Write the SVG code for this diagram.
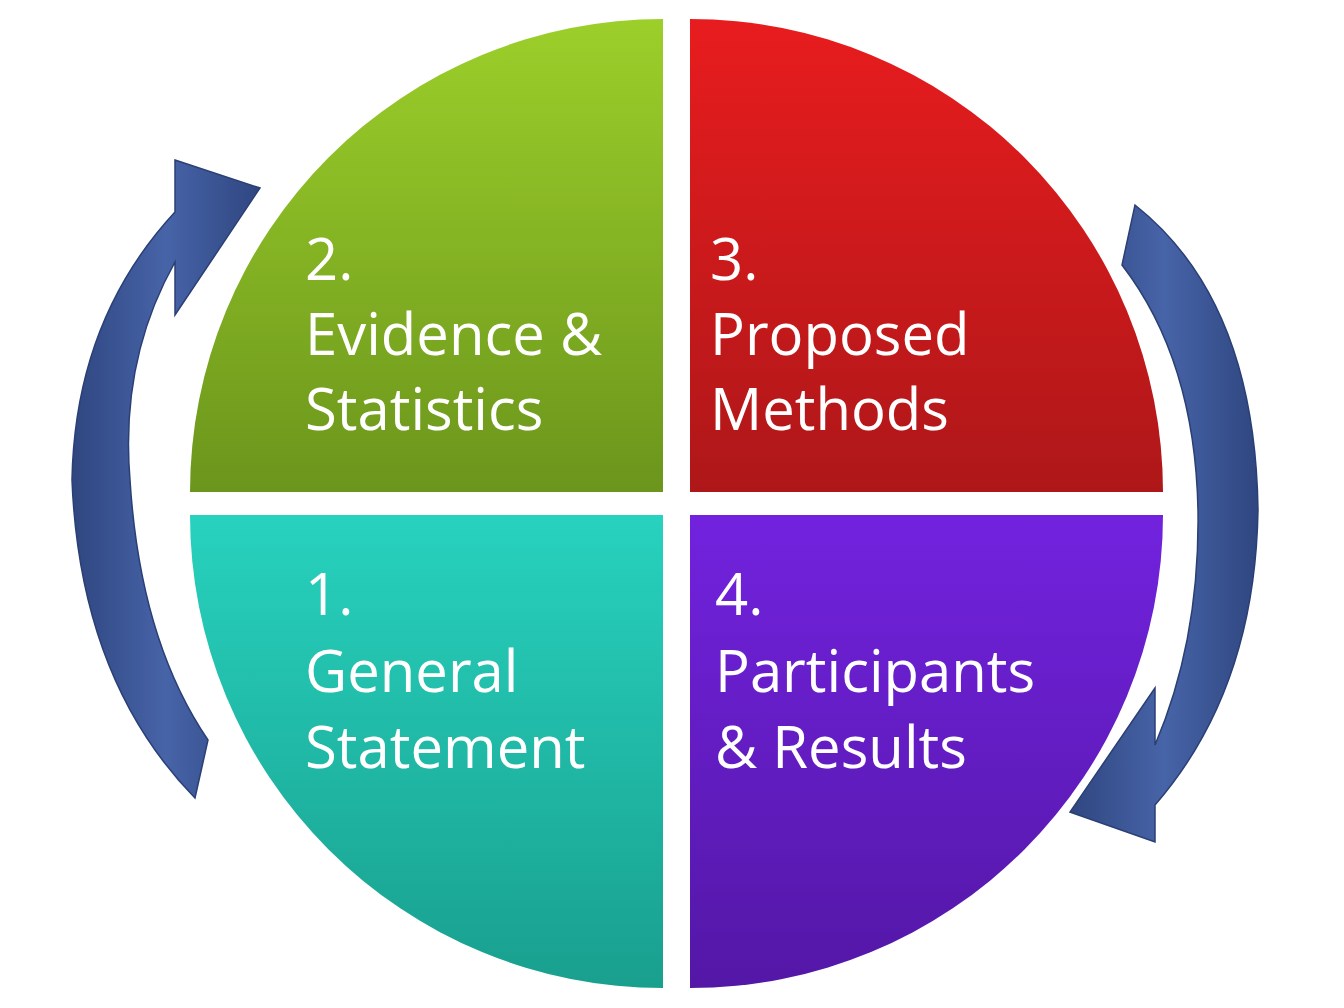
<svg xmlns="http://www.w3.org/2000/svg" width="1344" height="1008" viewBox="0 0 1344 1008">
<defs>
<linearGradient id="gG" x1="0" y1="0" x2="0" y2="1"><stop offset="0" stop-color="#9ccf2a"/><stop offset="1" stop-color="#6b951c"/></linearGradient>
<linearGradient id="gR" x1="0" y1="0" x2="0" y2="1"><stop offset="0" stop-color="#e81c1e"/><stop offset="1" stop-color="#ae1719"/></linearGradient>
<linearGradient id="gT" x1="0" y1="0" x2="0" y2="1"><stop offset="0" stop-color="#27d2be"/><stop offset="1" stop-color="#199f8e"/></linearGradient>
<linearGradient id="gP" x1="0" y1="0" x2="0" y2="1"><stop offset="0" stop-color="#7222de"/><stop offset="1" stop-color="#5317a6"/></linearGradient>
<linearGradient id="gA" x1="0" y1="0" x2="1" y2="0"><stop offset="0" stop-color="#2f4680"/><stop offset="0.5" stop-color="#4764a8"/><stop offset="1" stop-color="#2f4680"/></linearGradient>
<style>.t{font-family:"Open Sans","Liberation Sans",sans-serif;font-size:58px;fill:#fff}.a{fill:url(#gA);stroke:#2a3f74;stroke-width:1.5}</style>
</defs>
<g id="connectors">
<path class="a" d="M175,160 L260,188 L175,315 L175,262 Q120,360 130,480 Q140,640 208,740 L195,798 Q80,680 72,480 Q75,320 175,212 Z"/>
<path class="a" d="M1135,205 Q1255,300 1258,510 Q1255,690 1155,805 L1155,842 L1070,812 L1155,688 L1155,745 Q1200,640 1198,510 Q1195,360 1122,265 Z"/>
</g>
<g id="n2"><path d="M663,492 L190,492 A473,473 0 0 1 663,19 Z" fill="url(#gG)"/>
<text class="t" x="305" y="280">2.</text><text class="t" x="305" y="355">Evidence &amp;</text><text class="t" x="305" y="430">Statistics</text></g>
<g id="n3"><path d="M690,492 L690,19 A473,473 0 0 1 1163,492 Z" fill="url(#gR)"/>
<text class="t" x="710" y="280">3.</text><text class="t" x="710" y="355">Proposed</text><text class="t" x="710" y="430">Methods</text></g>
<g id="n1"><path d="M663,515 L663,988 A473,473 0 0 1 190,515 Z" fill="url(#gT)"/>
<text class="t" x="305" y="615">1.</text><text class="t" x="305" y="692">General</text><text class="t" x="305" y="768">Statement</text></g>
<g id="n4"><path d="M690,515 L1163,515 A473,473 0 0 1 690,988 Z" fill="url(#gP)"/>
<text class="t" x="715" y="615">4.</text><text class="t" x="715" y="692">Participants</text><text class="t" x="715" y="768">&amp; Results</text></g>
</svg>
